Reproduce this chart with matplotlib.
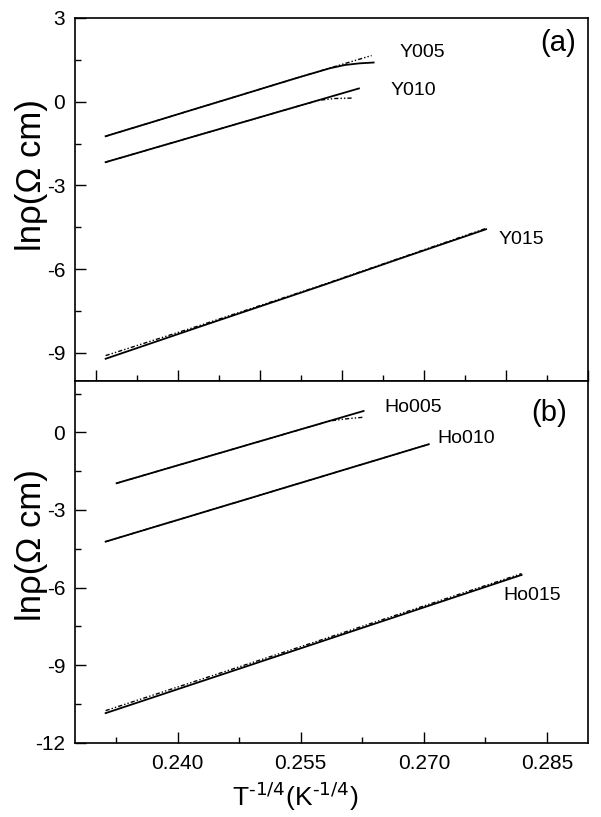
import matplotlib
matplotlib.use("Agg")
import matplotlib.pyplot as plt
from matplotlib.ticker import MultipleLocator, FormatStrFormatter, NullFormatter

plt.rcParams['font.family'] = ['Liberation Sans', 'DejaVu Sans']
plt.rcParams['mathtext.default'] = 'regular'
plt.rcParams['axes.unicode_minus'] = False

# ---- data ----
# panel (a)
y005_x = [0.23123, 0.24636, 0.25487, 0.25852, 0.26035, 0.26217, 0.26388]
y005_y = [-1.239, 0.118, 0.882, 1.196, 1.314, 1.375, 1.404]
y005d_x = [0.23123, 0.24636, 0.25487, 0.26363]
y005d_y = [-1.239, 0.118, 0.882, 1.654]

y010_x = [0.23123, 0.24636, 0.25487, 0.26209]
y010_y = [-2.168, -0.871, -0.143, 0.475]
y010d_x = [0.23123, 0.24636, 0.25487, 0.25730, 0.25913, 0.26144]
y010d_y = [-2.168, -0.871, -0.143, 0.054, 0.114, 0.132]

y015_x = [0.23123, 0.24271, 0.25731, 0.26704, 0.27758]
y015_y = [-9.214, -8.064, -6.618, -5.629, -4.571]
y015d_x = [0.23123, 0.24271, 0.25731, 0.26704, 0.27758]
y015d_y = [-9.10, -8.02, -6.60, -5.61, -4.54]

# panel (b)
ho005_x = [0.23257, 0.24757, 0.26266]
ho005_y = [-1.966, -0.571, 0.829]
ho005d_x = [0.23257, 0.24757, 0.25852, 0.26035, 0.26257]
ho005d_y = [-1.966, -0.571, 0.442, 0.519, 0.585]

ho010_x = [0.23123, 0.24879, 0.27060]
ho010_y = [-4.224, -2.546, -0.458]
ho010d_x = [0.23123, 0.24879, 0.27060]
ho010d_y = [-4.224, -2.546, -0.458]

ho015_x = [0.23123, 0.25487, 0.28191]
ho015_y = [-10.857, -8.364, -5.511]
ho015d_x = [0.23123, 0.25487, 0.28191]
ho015d_y = [-10.76, -8.30, -5.46]

labels_a = ["Y005", "Y010", "Y015"]
labels_b = ["Ho005", "Ho010", "Ho015"]
label_pos_a = [(0.26704, 1.75), (0.26591, 0.40), (0.27908, -4.93)]
label_pos_b = [(0.26521, 0.95), (0.27170, -0.22), (0.27969, -6.32)]

fig = plt.figure(figsize=(6.01, 8.17), dpi=100)
axa = fig.add_axes([0.1248, 0.53403, 0.8536, 0.44394])
axb = fig.add_axes([0.1248, 0.09094, 0.8536, 0.44309])

dash = (0, (3, 1.5, 1, 1.5, 1, 1.5))
lw_s = 1.3
lw_d = 1.0

for xs, ys, xd, yd in [(y005_x, y005_y, y005d_x, y005d_y),
                       (y010_x, y010_y, y010d_x, y010d_y),
                       (y015_x, y015_y, y015d_x, y015d_y)]:
    axa.plot(xd, yd, color='black', lw=lw_d, ls=dash)
    axa.plot(xs, ys, color='black', lw=lw_s)

for xs, ys, xd, yd in [(ho005_x, ho005_y, ho005d_x, ho005d_y),
                       (ho010_x, ho010_y, ho010d_x, ho010d_y),
                       (ho015_x, ho015_y, ho015d_x, ho015d_y)]:
    axb.plot(xd, yd, color='black', lw=lw_d, ls=dash)
    axb.plot(xs, ys, color='black', lw=lw_s)

for lab, (x, y) in zip(labels_a, label_pos_a):
    axa.text(x, y, lab, fontsize=14, ha='left', va='center')
for lab, (x, y) in zip(labels_b, label_pos_b):
    axb.text(x, y, lab, fontsize=14, ha='left', va='center')

axa.text(0.977, 0.932, "(a)", transform=axa.transAxes, fontsize=21, ha='right', va='center')
axb.text(0.960, 0.912, "(b)", transform=axb.transAxes, fontsize=21, ha='right', va='center')

xlim = (0.2275, 0.2900)
axa.set_xlim(*xlim)
axb.set_xlim(*xlim)
axa.set_ylim(-10, 3)
axb.set_ylim(-12, 2)

axa.xaxis.set_major_locator(MultipleLocator(0.01))
axa.xaxis.set_minor_locator(MultipleLocator(0.005))
axa.xaxis.set_major_formatter(NullFormatter())
axb.xaxis.set_major_locator(MultipleLocator(0.015))
axb.xaxis.set_minor_locator(MultipleLocator(0.0075))
axb.xaxis.set_major_formatter(FormatStrFormatter('%.3f'))
for ax in (axa, axb):
    ax.yaxis.set_major_locator(MultipleLocator(3))
    ax.yaxis.set_minor_locator(MultipleLocator(1.5))
    ax.yaxis.set_major_formatter(FormatStrFormatter('%d'))
    ax.tick_params(which='both', direction='in', top=False, right=False, width=1.0)
    ax.tick_params(which='major', length=8, labelsize=15, pad=7)
    ax.tick_params(which='minor', length=4)
    for s in ax.spines.values():
        s.set_linewidth(1.2)

axb.tick_params(axis='x', which='major', pad=8)

ylab = "ln\u03c1(\u03a9 cm)"
fig.text(31 / 601, 1 - 175 / 817, ylab, rotation=90, fontsize=25, ha='center', va='center')
fig.text(31 / 601, 1 - 545 / 817, ylab, rotation=90, fontsize=25, ha='center', va='center')
fig.text(295 / 601, 1 - 797 / 817, r"T$^{\text{-1/4}}$(K$^{\text{-1/4}}$)", fontsize=19, ha='center', va='center')

fig.savefig("out.png", dpi=100)
